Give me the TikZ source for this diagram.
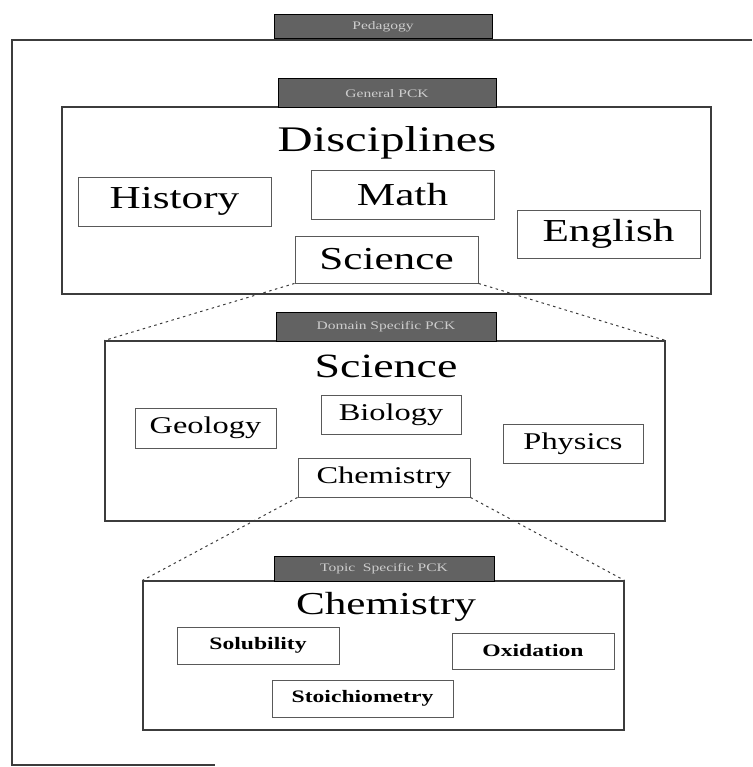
\documentclass[tikz,border=0pt]{standalone}
\usepackage{fontspec}
\setmainfont{Liberation Serif}
\newfontfamily\widefont[FakeStretch=1.35]{Liberation Serif}
\definecolor{tabgrey}{RGB}{98,98,98}
\definecolor{tabtext}{RGB}{205,205,205}
\definecolor{linegrey}{RGB}{60,60,60}
\tikzset{
  tab/.style={draw=black, line width=1pt, fill=tabgrey, text=tabtext, inner sep=0pt,
    font=\widefont\fontsize{11.5}{13}\selectfont},
  level/.style={draw=linegrey, line width=1.1pt, inner sep=0pt},
  item/.style={draw=linegrey!85, line width=0.9pt, inner sep=0pt},
  zoomline/.style={linegrey, line width=1pt, dash pattern=on 2.5pt off 3.5pt}
}
\begin{document}
\begin{tikzpicture}[x=1pt, y=-1pt]
  \useasboundingbox (0,0) rectangle (752,767);
  % outer frame (cut by the page)
  \draw[linegrey, line width=1.2pt] (752,40) -- (12,40) -- (12,765) -- (215,765);
  \node[tab, minimum width=218pt, minimum height=24pt] (pedagogy) at (383,27) {Pedagogy};

  % general level
  \node[level, minimum width=649pt, minimum height=187pt] (general) at (386.5,200.5) {};
  \node[tab, minimum width=218pt, minimum height=29pt] (generaltab) at (387,93.5) {General PCK};
  \node[font=\widefont\fontsize{36}{40}\selectfont] (disciplines) at (387,143) {Disciplines};
  \node[item, minimum width=193pt, minimum height=49pt, font=\widefont\fontsize{32}{36}\selectfont] (history) at (174.5,201.5) {History};
  \node[item, minimum width=183pt, minimum height=49pt, font=\widefont\fontsize{32}{36}\selectfont] (math) at (402.5,194.5) {Math};
  \node[item, minimum width=183pt, minimum height=48pt, font=\widefont\fontsize{32}{36}\selectfont] (english) at (608.5,234) {English};
  \node[item, minimum width=183pt, minimum height=47pt, font=\widefont\fontsize{32}{36}\selectfont] (science) at (386.5,259.5) {Science};

  % domain level
  \node[level, minimum width=560pt, minimum height=180pt] (domain) at (385,431) {};
  \node[tab, minimum width=220pt, minimum height=29pt] (domaintab) at (386,326.5) {Domain Specific PCK};
  \node[font=\widefont\fontsize{34}{38}\selectfont] (sciencetitle) at (386,366) {Science};
  \node[item, minimum width=141pt, minimum height=40pt, font=\widefont\fontsize{24}{28}\selectfont] (geology) at (205.5,428) {Geology};
  \node[item, minimum width=140pt, minimum height=39pt, font=\widefont\fontsize{24}{28}\selectfont] (biology) at (391,414.5) {Biology};
  \node[item, minimum width=140pt, minimum height=39pt, font=\widefont\fontsize{24}{28}\selectfont] (physics) at (573,443.5) {Physics};
  \node[item, minimum width=172pt, minimum height=39pt, font=\widefont\fontsize{24}{28}\selectfont] (chemistry) at (384,477.5) {Chemistry};

  % topic level
  \node[level, minimum width=481pt, minimum height=149pt] (topic) at (383.5,655.5) {};
  \node[tab, minimum width=220pt, minimum height=25pt] (topictab) at (384,568.5) {Topic\ \ Specific PCK};
  \node[font=\widefont\fontsize{32}{36}\selectfont] (chemistrytitle) at (386,607) {Chemistry};
  \node[item, minimum width=162pt, minimum height=37pt, font=\widefont\bfseries\fontsize{17.5}{20}\selectfont] (solubility) at (258,645.5) {Solubility};
  \node[item, minimum width=162pt, minimum height=36pt, font=\widefont\bfseries\fontsize{17.5}{20}\selectfont] (oxidation) at (533,651) {Oxidation};
  \node[item, minimum width=181pt, minimum height=37pt, font=\widefont\bfseries\fontsize{17.5}{20}\selectfont] (stoichiometry) at (362.5,698.5) {Stoichiometry};

  % zoom lines
  \draw[zoomline] (science.south west) -- (domain.north west);
  \draw[zoomline] (science.south east) -- (domain.north east);
  \draw[zoomline] (chemistry.south west) -- (topic.north west);
  \draw[zoomline] (chemistry.south east) -- (topic.north east);
\end{tikzpicture}
\end{document}
